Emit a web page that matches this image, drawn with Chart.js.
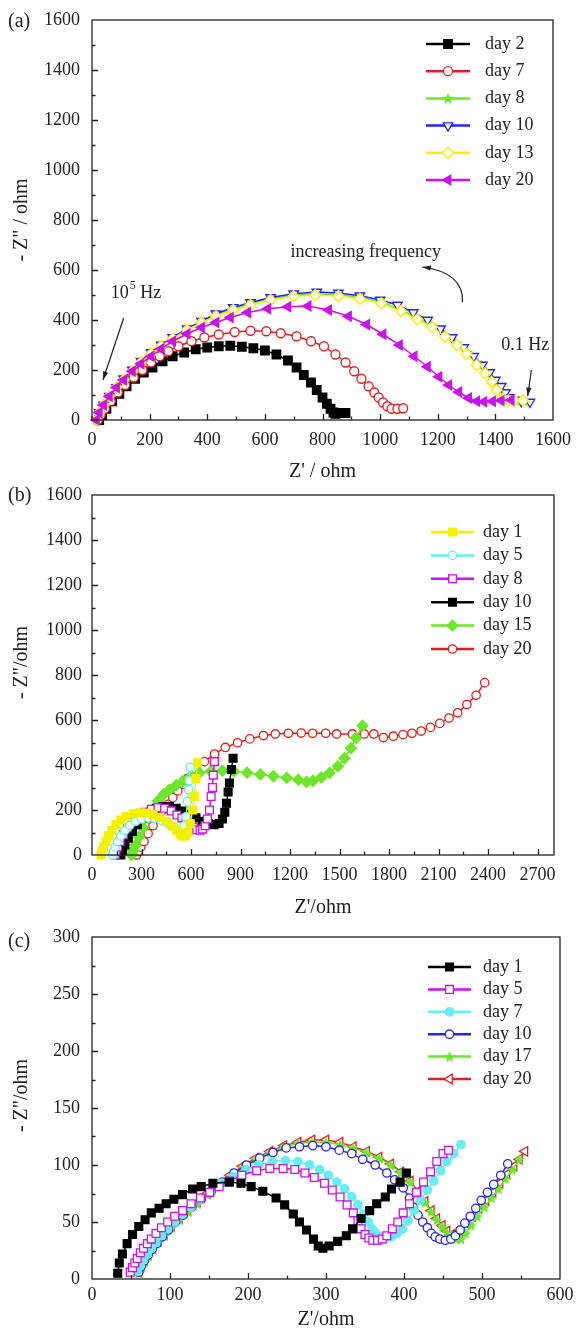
<!DOCTYPE html>
<html>
<head>
<meta charset="utf-8">
<script src="https://cdn.jsdelivr.net/npm/chart.js@4.4.1/dist/chart.umd.min.js"></script>
<style>
  html, body { margin: 0; padding: 0; background: #fff; }
  body { width: 580px; height: 1328px; position: relative; overflow: hidden; font-family: "Liberation Serif", serif; }
  .panel { position: absolute; left: 0; width: 580px; }
  .tag { position: absolute; left: 8px; font-size: 20px; line-height: 20px; color: #222; }
</style>
</head>
<body>
<div class="panel" style="top:0;height:490px"><canvas id="chartA" width="580" height="490"></canvas></div>
<div class="panel" style="top:470px;height:450px"><canvas id="chartB" width="580" height="450"></canvas></div>
<div class="panel" style="top:900px;height:428px"><canvas id="chartC" width="580" height="428"></canvas></div>
<div class="tag" style="top:10px">(a)</div>
<div class="tag" style="top:484px">(b)</div>
<div class="tag" style="top:930px">(c)</div>
<script>
// ---- panel (a): [Z', -Z''] pairs in ohm ----
const aLabels = ['day 2', 'day 7', 'day 8', 'day 10', 'day 13', 'day 20'];
const aTicks = [0, 200, 400, 600, 800, 1000, 1200, 1400, 1600];

const aDay2 = [[25,0],[35,20],[50,45],[70,75],[95,105],[120,135],[150,165],[180,190],[210,210],[245,235],[280,255],[320,270],[360,283],[400,290],[440,295],[480,297],[520,293],[560,287],[600,278],[640,262],[680,238],[710,210],[735,180],[760,150],[780,120],[800,90],[815,65],[828,45],[838,30],[845,25],[860,28],[880,28]];
const aDay7 = [[20,0],[30,20],[45,45],[65,75],[90,110],[115,140],[145,170],[175,200],[205,230],[235,255],[265,275],[300,295],[345,315],[390,330],[440,342],[495,352],[550,357],[605,355],[655,347],[710,335],[760,315],[805,295],[845,262],[880,230],[910,195],[935,165],[960,135],[980,110],[995,90],[1010,70],[1025,55],[1040,45],[1060,45],[1080,47]];
const aDay8 = [[15,0],[25,30],[40,60],[60,95],[85,130],[110,163],[140,198],[170,232],[205,267],[240,298],[280,328],[330,362],[380,392],[430,420],[490,445],[550,465],[620,485],[700,500],[778,505],[855,501],[930,490],[1004,472],[1072,442],[1129,410],[1180,380],[1226,342],[1266,308],[1303,272],[1338,230],[1368,195],[1392,160],[1410,128],[1430,95],[1448,80],[1470,78],[1500,76]];
const aDay10 = [[15,0],[25,30],[40,60],[60,95],[85,130],[110,165],[140,200],[170,235],[205,270],[240,300],[280,330],[330,365],[380,395],[430,425],[490,450],[550,470],[620,490],[700,505],[780,512],[855,508],[930,497],[1000,480],[1060,460],[1115,430],[1165,400],[1210,365],[1250,330],[1290,290],[1325,255],[1355,220],[1380,190],[1400,160],[1420,135],[1435,110],[1450,90],[1465,80],[1490,75],[1520,72]];
const aDay13 = [[15,0],[25,30],[40,60],[60,95],[85,130],[110,160],[140,195],[170,230],[205,265],[240,295],[280,325],[330,360],[380,390],[430,415],[490,440],[550,460],[620,480],[700,495],[775,500],[855,496],[930,485],[1004,467],[1072,436],[1129,403],[1180,373],[1226,333],[1266,300],[1300,264],[1335,220],[1364,187],[1387,153],[1404,120],[1427,87],[1445,78],[1467,78],[1496,78]];
const aDay20 = [[15,0],[25,30],[40,60],[60,95],[85,130],[110,160],[140,195],[170,225],[205,255],[240,285],[280,315],[330,345],[380,370],[430,390],[480,410],[540,430],[610,445],[680,453],[750,456],[821,440],[890,415],[953,382],[1010,343],[1067,300],[1118,255],[1164,213],[1204,173],[1238,140],[1273,112],[1307,88],[1335,75],[1360,73],[1390,75],[1420,78],[1455,80]];

// ---- panel (b) ----
const bLabels = ['day 1', 'day 5', 'day 8', 'day 10', 'day 15', 'day 20'];
const bXTicks = [0, 300, 600, 900, 1200, 1500, 1800, 2100, 2400, 2700];
const bYTicks = [0, 200, 400, 600, 800, 1000, 1200, 1400, 1600];

const bDay1 = [[55,0],[60,15],[70,35],[85,60],[100,85],[120,110],[145,135],[175,155],[210,172],[250,183],[290,188],[330,187],[370,180],[410,168],[450,150],[485,128],[515,108],[535,92],[550,85],[565,85],[580,100],[595,140],[610,200],[620,260],[630,340],[640,410]];
const bDay5 = [[125,0],[130,15],[140,35],[155,60],[175,85],[200,110],[230,132],[265,150],[300,160],[340,165],[380,162],[420,155],[460,142],[495,125],[520,110],[535,100],[550,105],[560,130],[570,170],[578,237],[586,290],[590,330],[596,390]];
const bDay8 = [[140,0],[145,15],[155,35],[170,60],[190,90],[215,120],[245,148],[280,172],[320,190],[360,203],[400,210],[440,208],[480,196],[515,178],[545,165],[570,150],[595,135],[615,122],[635,112],[655,110],[670,115],[685,130],[700,160],[712,200],[722,260],[730,300],[735,355],[742,415]];
const bDay10 = [[175,0],[185,20],[200,45],[220,75],[245,105],[275,135],[310,165],[350,190],[390,207],[430,215],[470,215],[510,208],[550,195],[590,180],[630,165],[670,150],[705,140],[740,135],[770,140],[790,160],[805,190],[815,230],[825,280],[833,320],[845,380],[855,430]];
const bDay15 = [[240,0],[250,20],[265,45],[285,80],[310,120],[340,165],[370,205],[400,240],[435,270],[470,290],[510,310],[550,328],[600,350],[650,365],[720,372],[790,375],[860,372],[940,366],[1020,358],[1100,350],[1180,343],[1250,335],[1300,325],[1340,330],[1390,345],[1440,365],[1490,395],[1530,430],[1570,475],[1600,520],[1640,575]];
const bDay20 = [[270,0],[280,15],[295,35],[315,60],[340,95],[370,130],[400,165],[430,200],[460,225],[490,255],[520,285],[550,315],[580,341],[630,380],[681,415],[743,449],[808,478],[882,499],[956,516],[1039,531],[1111,538],[1190,541],[1268,542],[1337,541],[1416,541],[1483,538],[1578,538],[1650,538],[1708,538],[1766,522],[1826,528],[1885,535],[1939,541],[1995,551],[2051,567],[2108,585],[2164,609],[2216,632],[2272,669],[2328,710],[2380,766]];

// ---- panel (c) ----
const cLabels = ['day 1', 'day 5', 'day 7', 'day 10', 'day 17', 'day 20'];
const cXTicks = [0, 100, 200, 300, 400, 500, 600];
const cYTicks = [0, 50, 100, 150, 200, 250, 300];

const cDay1 = [[33,5],[35,14],[39,22],[45,31],[52,39],[60,46],[68,52],[76,58],[86,62],[95,66],[105,70],[116,74],[129,79],[140,81],[155,84],[176,85],[191,84],[204,81],[219,77],[236,71],[247,65],[258,57],[266,50],[275,43],[284,35],[290,29],[296,27],[304,29],[315,33],[326,38],[334,44],[345,53],[356,60],[365,66],[376,72],[384,79],[395,85],[403,93]];
const cDay5 = [[49,6],[52,10],[55,14],[58,18],[62,23],[66,27],[71,31],[76,35],[82,40],[89,45],[97,50],[106,55],[116,60],[127,66],[139,71],[151,76],[163,81],[176,86],[192,91],[211,95],[228,97],[245,97],[260,96],[273,93],[285,89],[298,84],[308,78],[318,72],[327,65],[335,58],[341,51],[345,44],[350,39],[355,36],[360,34],[366,34],[372,35],[378,38],[385,44],[392,50],[399,58],[407,66],[416,76],[425,85],[434,94],[442,103],[450,110],[457,113]];
const cDay7 = [[58,7],[62,12],[66,17],[71,22],[76,27],[82,32],[89,38],[97,44],[106,50],[116,57],[127,63],[139,70],[152,77],[166,84],[181,90],[197,96],[214,100],[231,103],[248,104],[264,103],[279,100],[292,96],[303,91],[314,85],[324,79],[333,72],[341,65],[348,57],[354,50],[359,44],[364,40],[370,37],[377,36],[384,37],[391,40],[398,44],[405,51],[413,60],[421,69],[430,78],[438,86],[447,95],[455,103],[464,110],[473,118]];
const cDay10 = [[60,6],[63,11],[67,16],[72,21],[77,26],[83,31],[90,37],[98,43],[107,50],[117,56],[128,63],[140,70],[153,77],[167,85],[182,93],[198,100],[215,106],[232,111],[249,115],[266,116],[283,117],[300,116],[317,113],[333,110],[347,105],[363,100],[378,93],[388,87],[399,80],[407,71],[412,63],[418,56],[424,50],[430,45],[435,40],[440,37],[446,35],[453,34],[460,35],[466,38],[472,43],[478,49],[485,55],[492,62],[499,69],[507,76],[515,83],[524,91],[533,101]];
const cDay17 = [[60,5],[63,10],[67,15],[72,20],[78,26],[85,32],[93,38],[102,45],[112,52],[123,59],[135,66],[148,74],[162,82],[177,90],[193,98],[210,105],[228,111],[246,116],[264,119],[282,120],[300,120],[318,118],[335,115],[352,111],[368,106],[383,100],[396,93],[408,85],[418,76],[427,67],[435,59],[442,52],[449,46],[455,41],[461,37],[467,35],[473,35],[479,40],[486,47],[494,55],[503,63],[512,71],[521,79],[530,88],[539,96],[548,105]];
const cDay20 = [[60,6],[63,11],[67,16],[72,21],[78,27],[85,33],[93,39],[102,46],[112,53],[123,60],[135,67],[148,75],[162,83],[177,91],[193,99],[210,106],[228,112],[246,117],[264,120],[282,122],[300,122],[318,120],[335,116],[352,112],[368,107],[383,101],[396,94],[408,86],[418,77],[427,68],[435,60],[442,53],[449,47],[455,42],[461,39],[467,39],[473,42],[480,49],[488,55],[496,62],[505,69],[514,76],[523,84],[532,92],[541,99],[548,105],[555,112]];

const INK = '#222';
const SERIF = '"Liberation Serif", "Times New Roman", serif';
Chart.defaults.font.family = SERIF;
Chart.defaults.color = INK;

const RED = '#e02020', GREEN = '#6ee62a', BLUE = '#2424ff', YELLOW = '#f2f200',
      MAGENTA = '#cc11ee', CYAN = '#66eef0', BLACK = '#000000';

function starImage(r, fill) {
    const c = document.createElement('canvas');
    c.width = c.height = Math.ceil(r * 2 + 2);
    const g = c.getContext('2d');
    g.translate(c.width / 2, c.height / 2 + r * 0.1);
    g.beginPath();
    for (let k = 0; k < 10; k++) {
        const rr = k % 2 ? r * 0.45 : r;
        const ang = -Math.PI / 2 + k * Math.PI / 5;
        g.lineTo(rr * Math.cos(ang), rr * Math.sin(ang));
    }
    g.closePath();
    g.fillStyle = fill;
    g.fill();
    return c;
}

// one series -> dataset; marker: [style, radius, rotation, filled]
function series(label, pts, color, marker, order) {
    const [style, radius, rotation, filled] = marker;
    return {
        label: label,
        data: pts.map(p => ({ x: p[0], y: p[1] })),
        showLine: true,
        borderColor: color,
        borderWidth: 1.5,
        pointStyle: style,
        pointRadius: radius,
        pointRotation: rotation,
        pointBackgroundColor: filled ? color : '#ffffff',
        pointBorderColor: color,
        pointBorderWidth: 1.3,
        clip: false,
        order: order || 0
    };
}

// draws the box and inward ticks (major + minor)
const frameTicks = {
    id: 'frameTicks',
    afterDatasetsDraw(chart) {
        const { ctx, chartArea: ca, scales: { x, y } } = chart;
        ctx.save();
        ctx.strokeStyle = INK;
        ctx.lineWidth = 1.3;
        ctx.strokeRect(ca.left, ca.top, ca.right - ca.left, ca.bottom - ca.top);
        ctx.beginPath();
        x.ticks.forEach(t => {
            const px = Math.round(x.getPixelForValue(t.value)) + 0.5;
            if (px <= ca.left + 1 || px >= ca.right - 1) return;
            const len = t.label !== '' ? 6 : 3.5;
            ctx.moveTo(px, ca.bottom);
            ctx.lineTo(px, ca.bottom - len);
        });
        y.ticks.forEach(t => {
            const py = Math.round(y.getPixelForValue(t.value)) + 0.5;
            if (py <= ca.top + 1 || py >= ca.bottom - 1) return;
            const len = t.label !== '' ? 6 : 3.5;
            ctx.moveTo(ca.left, py);
            ctx.lineTo(ca.left + len, py);
        });
        ctx.stroke();
        ctx.restore();
    }
};

// legend: line segment with the marker in its middle, then the label
const legendMarks = {
    id: 'legendMarks',
    afterDraw(chart, args, opts) {
        const { ctx } = chart;
        ctx.save();
        chart.data.datasets.forEach((ds, i) => {
            const y = opts.y0 + i * opts.dy;
            ctx.strokeStyle = ds.borderColor;
            ctx.lineWidth = 2.5;
            ctx.beginPath();
            ctx.moveTo(opts.x0, y);
            ctx.lineTo(opts.x1, y);
            ctx.stroke();
            ctx.fillStyle = ds.pointBackgroundColor;
            ctx.strokeStyle = ds.pointBorderColor;
            ctx.lineWidth = ds.pointBorderWidth;
            Chart.helpers.drawPoint(ctx, {
                pointStyle: ds.pointStyle, rotation: ds.pointRotation,
                radius: ds.pointRadius, borderWidth: ds.pointBorderWidth
            }, (opts.x0 + opts.x1) / 2, y);
            ctx.fillStyle = INK;
            ctx.font = '18px ' + SERIF;
            ctx.textBaseline = 'middle';
            ctx.textAlign = 'left';
            ctx.fillText(ds.label, opts.xt, y);
        });
        ctx.restore();
    }
};

function arrowHead(ctx, x, y, ang) {
    ctx.beginPath();
    ctx.moveTo(x, y);
    ctx.lineTo(x - 9 * Math.cos(ang - 0.3), y - 9 * Math.sin(ang - 0.3));
    ctx.lineTo(x - 9 * Math.cos(ang + 0.3), y - 9 * Math.sin(ang + 0.3));
    ctx.closePath();
    ctx.fill();
}

// frequency notes in panel (a), placed in data units
const freqNotes = {
    id: 'freqNotes',
    afterDraw(chart) {
        const { ctx, scales: { x, y } } = chart;
        const X = v => x.getPixelForValue(v), Y = v => y.getPixelForValue(v);
        ctx.save();
        ctx.fillStyle = INK;
        ctx.strokeStyle = INK;
        ctx.lineWidth = 1.2;
        ctx.textBaseline = 'middle';
        ctx.font = '18px ' + SERIF;
        ctx.fillText('increasing frequency', X(689), Y(672));
        ctx.fillText('0.1 Hz', X(1420), Y(300));
        let tx = X(65);
        ctx.fillText('10', tx, Y(508));
        tx += ctx.measureText('10').width;
        ctx.font = '12px ' + SERIF;
        ctx.fillText('5', tx + 1, Y(508) - 7);
        tx += ctx.measureText('5').width + 1;
        ctx.font = '18px ' + SERIF;
        ctx.fillText(' Hz', tx, Y(508));

        // curved arrow (increasing frequency)
        const sx = X(1286), sy = Y(472), cx = X(1290), cy = Y(590), ex = X(1146), ey = Y(612);
        ctx.beginPath();
        ctx.moveTo(sx, sy);
        ctx.quadraticCurveTo(cx, cy, ex, ey);
        ctx.stroke();
        arrowHead(ctx, ex, ey, Math.atan2(ey - cy, ex - cx));
        // 10^5 Hz arrow
        ctx.beginPath();
        ctx.moveTo(X(110), Y(408));
        ctx.lineTo(X(38), Y(160));
        ctx.stroke();
        arrowHead(ctx, X(38), Y(160), Math.atan2(Y(160) - Y(408), X(38) - X(110)));
        // 0.1 Hz arrow
        ctx.beginPath();
        ctx.moveTo(X(1525), Y(200));
        ctx.lineTo(X(1512), Y(95));
        ctx.stroke();
        arrowHead(ctx, X(1512), Y(95), Math.atan2(Y(95) - Y(200), X(1512) - X(1525)));
        ctx.restore();
    }
};

function axes(o) {
    return {
        x: {
            type: 'linear', min: o.xmin, max: o.xmax,
            afterFit: s => { s.height = o.xh; },
            grid: { display: false, drawTicks: false },
            border: { display: false },
            ticks: {
                stepSize: o.xstep, autoSkip: false, maxRotation: 0, includeBounds: false,
                padding: o.xpad, font: { size: 18 }, color: INK,
                callback: v => o.xTicks.includes(v) ? String(v) : ''
            },
            title: { display: true, text: o.xtitle, font: { size: 20 }, color: INK, padding: { top: 0, bottom: o.xtpad } }
        },
        y: {
            type: 'linear', min: o.ymin, max: o.ymax,
            afterFit: s => { s.width = 92; s.paddingTop = 0; s.paddingBottom = 0; },
            grid: { display: false, drawTicks: false },
            border: { display: false },
            ticks: {
                stepSize: o.ystep, autoSkip: false, includeBounds: false,
                padding: o.ypad, font: { size: 18 }, color: INK,
                callback: v => o.yTicks.includes(v) ? String(v) : ''
            },
            title: { display: true, text: o.ytitle, font: { size: 20 }, color: INK, padding: { top: 10, bottom: 0 } }
        }
    };
}

function makeChart(id, datasets, scales, padding, legend, extra) {
    return new Chart(document.getElementById(id), {
        type: 'scatter',
        data: { datasets: datasets },
        options: {
            responsive: false,
            animation: false,
            events: [],
            layout: { padding: padding },
            plugins: { legend: { display: false }, tooltip: { enabled: false }, legendMarks: legend },
            scales: scales
        },
        plugins: [frameTicks, legendMarks].concat(extra || [])
    });
}

// the (b) and (c) y titles sit a little above the middle of the axis
const LIFT = '\u00a0\u00a0\u00a0\u00a0\u00a0';

// (a): later series drawn on top
const aSeries = [aDay2, aDay7, aDay8, aDay10, aDay13, aDay20];
const aColors = [BLACK, RED, GREEN, BLUE, YELLOW, MAGENTA];
const aMarks = [['rect', 6, 0, true], ['circle', 4.5, 0, false], [starImage(6, GREEN), 6, 0, true],
                ['triangle', 5.5, 180, false], ['rectRot', 5.5, 0, false], ['triangle', 5.5, 270, true]];
makeChart('chartA',
    aSeries.map((s, i) => series(aLabels[i], s, aColors[i], aMarks[i], 6 - i)),
    axes({ xmin: 0, xmax: 1600, xstep: 100, xTicks: aTicks, xpad: 9, xh: 70, xtitle: "Z' / ohm", xtpad: 6,
           ymin: 0, ymax: 1600, ystep: 100, yTicks: aTicks, ypad: 12, ytitle: '- Z" / ohm' }),
    { left: 0, right: 21, top: 20, bottom: 0 },
    { x0: 426, x1: 470, xt: 485, y0: 44, dy: 27.2 },
    [freqNotes]);

// (b)
const bSeries = [bDay1, bDay5, bDay8, bDay10, bDay15, bDay20];
const bColors = [YELLOW, CYAN, MAGENTA, BLACK, GREEN, RED];
const bMarks = [['rect', 5.5, 0, true], ['circle', 4.2, 0, false], ['rect', 5.5, 0, false],
                ['rect', 5.5, 0, true], ['rectRot', 5.5, 0, true], ['circle', 4.2, 0, false]];
makeChart('chartB',
    bSeries.map((s, i) => series(bLabels[i], s, bColors[i], bMarks[i])),
    axes({ xmin: 0, xmax: 2800, xstep: 150, xTicks: bXTicks, xpad: 9, xh: 65, xtitle: "Z'/ohm", xtpad: 0,
           ymin: 0, ymax: 1600, ystep: 100, yTicks: bYTicks, ypad: 10, ytitle: LIFT + '- Z"/ohm' }),
    { left: 0, right: 26, top: 25, bottom: 0 },
    { x0: 431, x1: 474, xt: 483, y0: 62, dy: 23.4 });

// (c)
const cSeries = [cDay1, cDay5, cDay7, cDay10, cDay17, cDay20];
const cColors = [BLACK, MAGENTA, CYAN, BLUE, GREEN, RED];
const cMarks = [['rect', 5.5, 0, true], ['rect', 5.5, 0, false], ['circle', 4.2, 0, true],
                ['circle', 4.2, 0, false], [starImage(6, GREEN), 6, 0, true], ['triangle', 5.5, 270, false]];
makeChart('chartC',
    cSeries.map((s, i) => series(cLabels[i], s, cColors[i], cMarks[i])),
    axes({ xmin: 0, xmax: 600, xstep: 50, xTicks: cXTicks, xpad: 5, xh: 49, xtitle: "Z'/ohm", xtpad: -4,
           ymin: 0, ymax: 300, ystep: 25, yTicks: cYTicks, ypad: 12, ytitle: LIFT + '- Z"/ohm' }),
    { left: 0, right: 20, top: 37, bottom: 0 },
    { x0: 428, x1: 471, xt: 483, y0: 67, dy: 22.4 });
</script>
</body>
</html>
